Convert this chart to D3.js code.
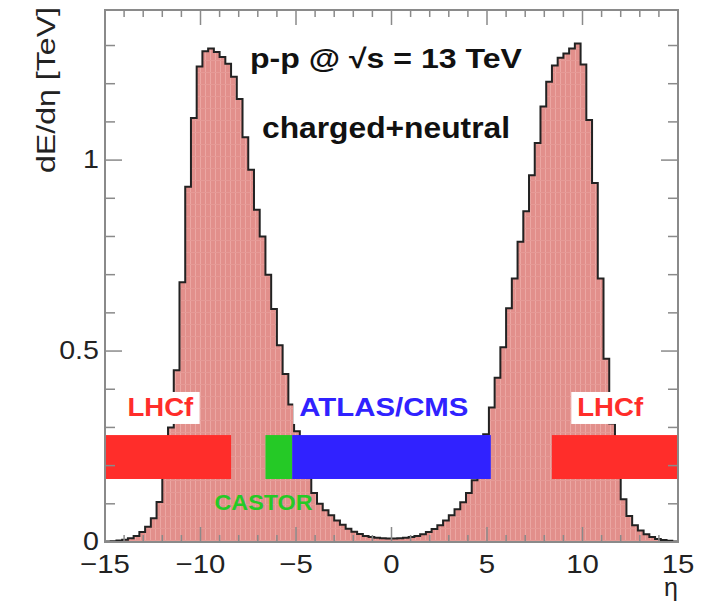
<!DOCTYPE html>
<html>
<head>
<meta charset="utf-8">
<script src="https://cdn.jsdelivr.net/npm/d3@7"></script>
<style>
  html, body { margin: 0; padding: 0; background: #fff; }
  svg { display: block; }
  text { font-family: "Liberation Sans", Arial, Helvetica, sans-serif; }
</style>
</head>
<body>
<svg id="chart" width="712" height="603"></svg>
<script>
// Energy flow dE/dη for p-p collisions at √s = 13 TeV, 100 bins over -15 < η < 15
const etaRange = [-15, 15];
const yRange = [0, 1.393];
const dEdEta = [
  0.001, 0.002, 0.004, 0.006, 0.010, 0.016, 0.026, 0.040, 0.062, 0.105,
  0.180, 0.300, 0.450, 0.680, 0.930, 1.110, 1.245, 1.285, 1.292, 1.283,
  1.270, 1.252, 1.218, 1.160, 1.060, 0.975, 0.870, 0.800, 0.700, 0.610,
  0.515, 0.440, 0.360, 0.290, 0.220, 0.168, 0.128, 0.100, 0.083, 0.070,
  0.056, 0.045, 0.035, 0.027, 0.021, 0.016, 0.013, 0.011, 0.010, 0.009,
  0.009, 0.010, 0.011, 0.013, 0.016, 0.020, 0.026, 0.034, 0.044, 0.056,
  0.070, 0.086, 0.104, 0.128, 0.162, 0.214, 0.282, 0.352, 0.430, 0.510,
  0.612, 0.690, 0.786, 0.866, 0.960, 1.045, 1.140, 1.205, 1.248, 1.268,
  1.279, 1.292, 1.305, 1.250, 1.105, 0.940, 0.690, 0.480, 0.310, 0.190,
  0.112, 0.068, 0.044, 0.030, 0.020, 0.013, 0.008, 0.005, 0.003, 0.001
];

// Detector acceptance bands
const detNames  = ["LHCf", "CASTOR", "ATLAS/CMS", "LHCf"];
const detFrom   = [-15, -6.6, -5.2, 8.4];
const detTo     = [-8.4, -5.2, 5.2, 15];
const detColors = ["#ff2d2a", "#25c926", "#3022ff", "#ff2d2a"];
const bandRange = [0.165, 0.28];

// Detector label anchors (η centre, dE/dη baseline)
const labelEta   = [-12.1, -6.7, -0.4, 11.45];
const labelY     = [0.33, 0.084, 0.33, 0.33];
const labelBoxed = [true, false, true, true];

const xTicks = [-15, -10, -5, 0, 5, 10, 15];
const yTicks = [0, 0.5, 1];

const margin = { left: 105, right: 34, top: 10, bottom: 61 };
const W = 712, H = 603;

const svg = d3.select("#chart");
const x = d3.scaleLinear().domain(etaRange).range([margin.left, W - margin.right]);
const y = d3.scaleLinear().domain(yRange).range([H - margin.bottom, margin.top]);

// Text in this style is drawn a little wider than the plain font
function widen(sel, factor) {
  sel.each(function () {
    const len = this.getComputedTextLength();
    d3.select(this).attr("textLength", len * factor).attr("lengthAdjust", "spacingAndGlyphs");
  });
  return sel;
}

// Fill pattern: pink base with a fine lighter grid
const defs = svg.append("defs");
const pat = defs.append("pattern")
  .attr("id", "fillPat").attr("patternUnits", "userSpaceOnUse")
  .attr("width", 5).attr("height", 12);
pat.append("rect").attr("width", 5).attr("height", 12).attr("fill", "#e28f8b");
pat.append("rect").attr("x", 0).attr("width", 1).attr("height", 12).attr("fill", "#eba7a3");
pat.append("rect").attr("y", 0).attr("width", 5).attr("height", 1).attr("fill", "#e69a96");

const nBins = dEdEta.length;
const binW = (etaRange[1] - etaRange[0]) / nBins;
const bins = dEdEta.map((v, i) => ({ lo: etaRange[0] + i * binW, hi: etaRange[0] + (i + 1) * binW, v }));

// Step outline of the histogram
const stepPts = [];
bins.forEach(b => { stepPts.push([b.lo, b.v]); stepPts.push([b.hi, b.v]); });

const area = d3.area().x(d => x(d[0])).y0(y(0)).y1(d => y(d[1]));
const line = d3.line().x(d => x(d[0])).y(d => y(d[1]));

svg.append("path").datum(stepPts).attr("d", area).attr("fill", "url(#fillPat)");
svg.append("path").datum(stepPts).attr("d", line)
  .attr("fill", "none").attr("stroke", "#222").attr("stroke-width", 2).attr("stroke-linejoin", "miter");

// Detector bands
svg.append("g").selectAll("rect").data(detNames).join("rect")
  .attr("x", (d, i) => x(detFrom[i]))
  .attr("width", (d, i) => x(detTo[i]) - x(detFrom[i]))
  .attr("y", y(bandRange[1]))
  .attr("height", y(bandRange[0]) - y(bandRange[1]))
  .attr("fill", (d, i) => detColors[i]);

// Detector labels
const labG = svg.append("g");
detNames.forEach((name, i) => {
  const g = labG.append("g");
  const t = g.append("text")
    .attr("x", x(labelEta[i])).attr("y", y(labelY[i]))
    .attr("text-anchor", "middle")
    .attr("font-weight", "bold")
    .attr("font-size", name === "CASTOR" ? 22 : 26)
    .attr("fill", detColors[i])
    .text(name);
  widen(t, name === "ATLAS/CMS" ? 1.13 : 1.06);
  if (labelBoxed[i]) {
    const bb = t.node().getBBox();
    g.insert("rect", "text")
      .attr("x", bb.x - 6).attr("y", bb.y).attr("width", bb.width + 12).attr("height", bb.height + 2)
      .attr("fill", "#fff");
  }
});

// Frame
const frameColor = "#8a8a8a";
const x0 = x(etaRange[0]), x1 = x(etaRange[1]), y0 = y(yRange[0]), y1 = y(yRange[1]);
svg.append("rect").attr("x", x0).attr("y", y1).attr("width", x1 - x0).attr("height", y0 - y1)
  .attr("fill", "none").attr("stroke", frameColor).attr("stroke-width", 2);

// Ticks on all four sides
const tickG = svg.append("g").attr("stroke", frameColor).attr("stroke-width", 1.5);
d3.range(-15, 15.001, 1).forEach(v => {
  const major = Math.abs(v % 5) < 1e-9;
  const len = major ? 15 : 7;
  tickG.append("line").attr("x1", x(v)).attr("x2", x(v)).attr("y1", y0).attr("y2", y0 - len);
  tickG.append("line").attr("x1", x(v)).attr("x2", x(v)).attr("y1", y1).attr("y2", y1 + len);
});
d3.range(0, 1.3501, 0.1).forEach(v => {
  const major = Math.abs((v * 10) % 5) < 1e-6 || Math.abs((v * 10) % 5 - 5) < 1e-6;
  const len = major ? 17 : 10;
  tickG.append("line").attr("y1", y(v)).attr("y2", y(v)).attr("x1", x0).attr("x2", x0 + len);
  tickG.append("line").attr("y1", y(v)).attr("y2", y(v)).attr("x1", x1).attr("x2", x1 - len);
});

// Axis tick labels
const fmt = v => (v < 0 ? "\u2212" + Math.abs(v) : String(v));
widen(svg.append("g").selectAll("text").data(xTicks).join("text")
  .attr("x", d => x(d)).attr("y", y0 + 31)
  .attr("text-anchor", "middle").attr("font-size", 26).attr("fill", "#222")
  .text(fmt), 1.13);
widen(svg.append("g").selectAll("text").data(yTicks).join("text")
  .attr("x", x0 - 6).attr("y", d => y(d) + 8)
  .attr("text-anchor", "end").attr("font-size", 26).attr("fill", "#222")
  .text(d => String(d)), 1.1);

// Axis titles
svg.append("text").attr("x", x1).attr("y", H - 7)
  .attr("text-anchor", "end").attr("font-size", 25).attr("fill", "#222").text("η");
svg.append("text")
  .attr("transform", `translate(55, ${y1 - 3}) rotate(-90)`)
  .attr("text-anchor", "end").attr("font-size", 26).attr("fill", "#222")
  .attr("textLength", 166).attr("lengthAdjust", "spacingAndGlyphs")
  .text("dE/dη [TeV]");

// Header text
svg.append("text").attr("x", 250).attr("y", 68)
  .attr("font-weight", "bold").attr("font-size", 27).attr("fill", "#111")
  .attr("textLength", 272).attr("lengthAdjust", "spacingAndGlyphs")
  .text("p-p @ √s = 13 TeV");
svg.append("text").attr("x", 262).attr("y", 138)
  .attr("font-weight", "bold").attr("font-size", 29).attr("fill", "#111")
  .attr("textLength", 248).attr("lengthAdjust", "spacingAndGlyphs")
  .text("charged+neutral");
</script>
</body>
</html>
